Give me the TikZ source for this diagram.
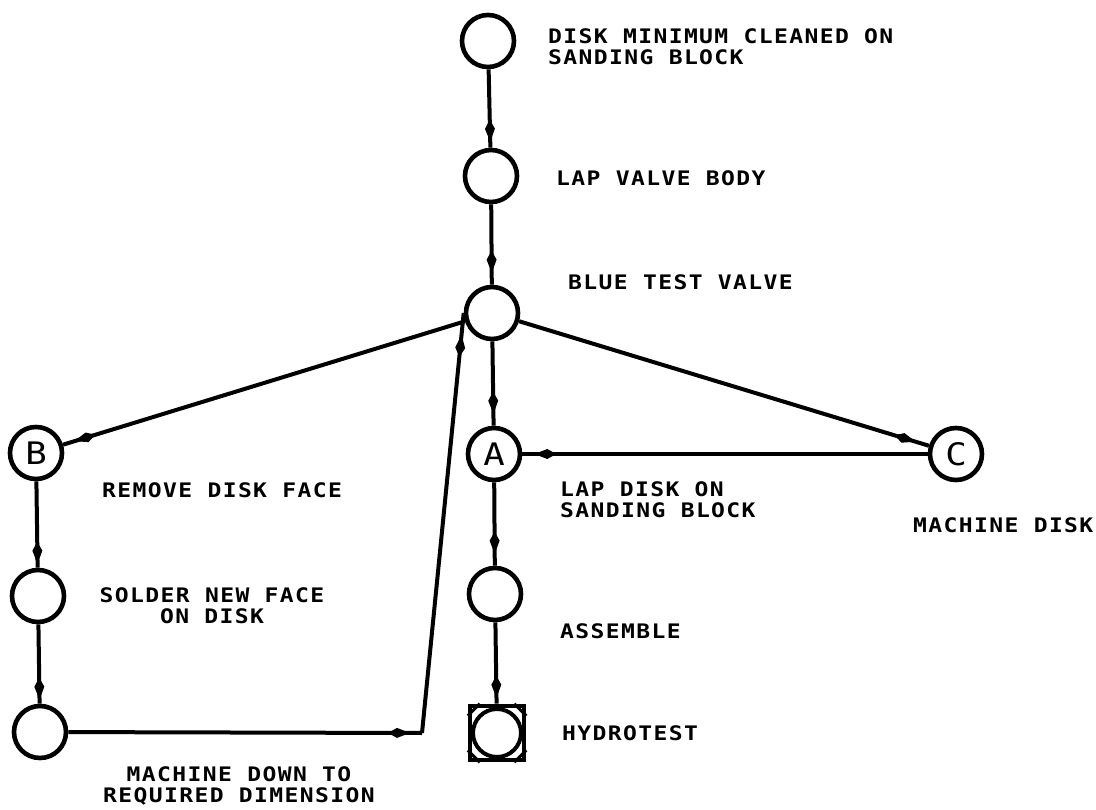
\documentclass[tikz,border=0pt]{standalone}
\usepackage{fontspec}
\newfontfamily\plotfont[FakeStretch=1.15,LetterSpace=7]{DejaVu Sans Mono}
\usetikzlibrary{arrows.meta,decorations.markings}
\begin{document}
\begin{tikzpicture}[x=1pt,y=-1pt,
  proc/.style={circle,draw,line width=4.6pt,minimum size=52pt,inner sep=0pt,
    font=\plotfont\fontsize{31}{31}\selectfont},
  lbl/.style={font=\plotfont\bfseries\fontsize{20}{21}\selectfont,inner sep=0pt},
  conn/.style={line width=4pt},
  flow/.style={conn,postaction={decorate},decoration={markings,
    mark=at position #1 with {\arrow{Kite[length=22pt,width=10pt,inset=9pt]}}}},
  flow/.default=-8pt,
]
\useasboundingbox (0,0) rectangle (1096,810);
% process circles
\node[proc] (n1) at (488,41) {};
\node[proc] (n2) at (491,176) {};
\node[proc] (n3) at (492,313) {};
\node[proc] (A) at (494,454) {A};
\node[proc] (C) at (956,454) {C};
\node[proc] (B) at (36,453) {B};
\node[proc] (sol) at (38,596) {};
\node[proc] (mach) at (40,732) {};
\node[proc] (asm) at (495,594) {};
% hydrotest: square with inscribed circle
\node[draw,line width=4.6pt,minimum size=54pt,inner sep=0pt] (hyd) at (497,733) {};
\draw[line width=4pt] (hyd.center) circle (24pt);
\draw[line width=3pt] (hyd.north west) ++(12,0) -- ++(-12,12);
\draw[line width=3pt] (hyd.north east) ++(-12,0) -- ++(12,12);
\draw[line width=3pt] (hyd.south west) ++(12,0) -- ++(-12,-12);
\draw[line width=3pt] (hyd.south east) ++(-12,0) -- ++(12,-12);
% labels
\node[lbl,anchor=west,align=left] (t1) at (548,47) {DISK MINIMUM CLEANED ON\\SANDING BLOCK};
\node[lbl,anchor=west] (t2) at (556,178) {LAP VALVE BODY};
\node[lbl,anchor=west] (t3) at (568,282) {BLUE TEST VALVE};
\node[lbl,anchor=west] (tB) at (102,490) {REMOVE DISK FACE};
\node[lbl,align=center] (tS) at (212,606) {SOLDER NEW FACE\\ON DISK};
\node[lbl,anchor=west,align=left] (tA) at (560,500) {LAP DISK ON\\SANDING BLOCK};
\node[lbl,anchor=west] (tC) at (913,525) {MACHINE DISK};
\node[lbl,anchor=west] (tAs) at (560,631) {ASSEMBLE};
\node[lbl,anchor=west] (tH) at (562,733) {HYDROTEST};
\node[lbl,align=center] (tM) at (239,786) {MACHINE DOWN TO\\REQUIRED DIMENSION};
% connectors
\draw[flow=-6pt] (n1) -- (n2);
\draw[flow=-12pt] (n2) -- (n3);
\draw[flow=-12pt] (n3) -- (A);
\draw[flow=-12pt] (A) -- (asm);
\draw[flow=-6pt] (asm) -- (hyd);
\draw[flow=-12pt] (n3) -- (B);
\draw[flow=-14pt] (n3) -- (C);
\draw[flow=-12pt] (C) -- (A);
\draw[flow=-4pt] (B) -- (sol);
\draw[flow=-4pt] (sol) -- (mach);
\coordinate (bend) at (422,733);
\draw[flow=-12pt] (mach) -- (bend);
\draw[flow=-22pt] (bend) -- (n3.west);
\end{tikzpicture}
\end{document}
